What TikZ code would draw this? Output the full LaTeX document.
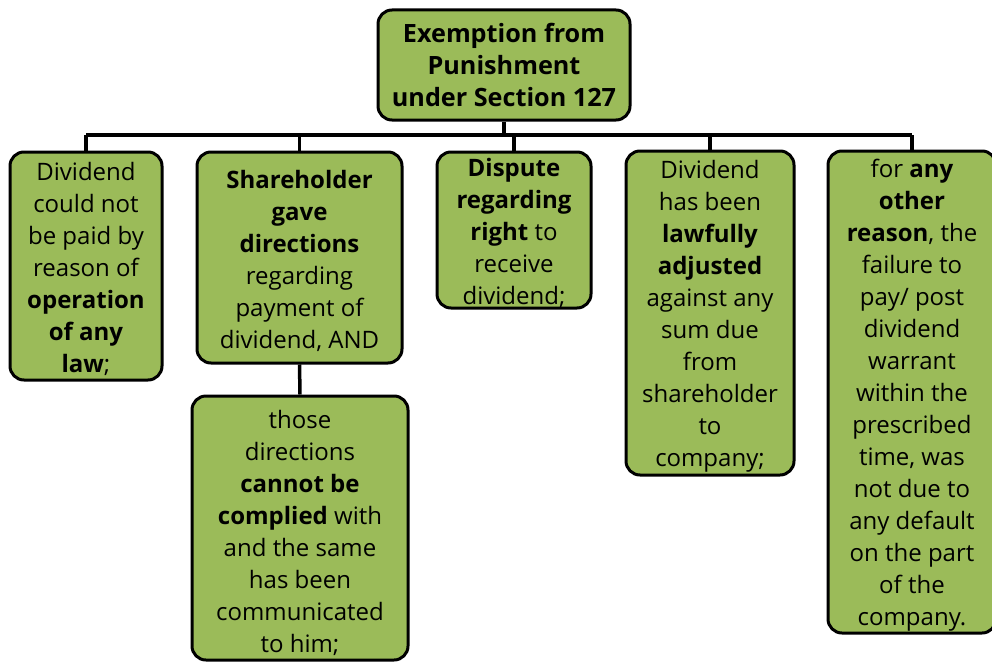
\documentclass[tikz,border=0pt]{standalone}
\usepackage{fontspec}
\setmainfont{Open Sans}
\definecolor{boxgreen}{RGB}{155,187,89}
\begin{document}
\begin{tikzpicture}[x=1pt,y=-1pt,
  box/.style={draw=black, line width=3pt, rounded corners=14pt, fill=boxgreen, inner sep=0pt},
  txt/.style={align=center, inner sep=0pt, font=\fontsize{24}{32}\selectfont, yshift=-3pt},
  roottxt/.style={align=center, inner sep=0pt, font=\fontsize{25.2}{32}\selectfont\bfseries},
  conn/.style={draw=black, line width=3.5pt}]
\useasboundingbox (0,0) rectangle (992,661);
\coordinate (bus) at (0,135);
\node[box, minimum width=252, minimum height=110] (root) at (504,65) {};
\node[roottxt] (troot) at (root) {Exemption from\\Punishment\\under Section 127};
\node[box, minimum width=152, minimum height=228] (b1) at (86,266) {};
\node[txt] (t1) at (b1)
  {Dividend\\could not\\be paid by\\reason of\\\textbf{operation}\\\textbf{of any}\\\textbf{law};};
\node[box, minimum width=205, minimum height=211] (b2) at (299.5,257.5) {};
\node[txt] (t2) at (b2)
  {\textbf{Shareholder}\\\textbf{gave}\\\textbf{directions}\\regarding\\payment of\\dividend, AND};
\node[box, minimum width=216, minimum height=264] (b2c) at (300,528) {};
\node[txt, yshift=-2pt] (t2c) at (b2c)
  {those\\directions\\\textbf{cannot be}\\\textbf{complied} with\\and the same\\has been\\communicated\\to him;};
\node[box, minimum width=154, minimum height=156] (b3) at (514,230) {};
\node[txt] (t3) at (b3)
  {\textbf{Dispute}\\\textbf{regarding}\\\textbf{right} to\\receive\\dividend;};
\node[box, minimum width=168, minimum height=324] (b4) at (710,313) {};
\node[txt] (t4) at (b4)
  {Dividend\\has been\\\textbf{lawfully}\\\textbf{adjusted}\\against any\\sum due\\from\\shareholder\\to\\company;};
\node[box, minimum width=168, minimum height=482] (b5) at (912,392) {};
\node[txt] (t5) at (b5)
  {for \textbf{any}\\\textbf{other}\\\textbf{reason}, the\\failure to\\pay/ post\\dividend\\warrant\\within the\\prescribed\\time, was\\not due to\\any default\\on the part\\of the\\company.};
\draw[conn] (root.south) -- (root.south |- bus);
\draw[conn] (b1.north |- bus) -- (b5.north |- bus);
\foreach \n in {b1,b2,b3,b4,b5} { \draw[conn] (\n.north |- bus) -- (\n.north); }
\draw[conn] (b2.south) -- (b2c.north);
\end{tikzpicture}
\end{document}
